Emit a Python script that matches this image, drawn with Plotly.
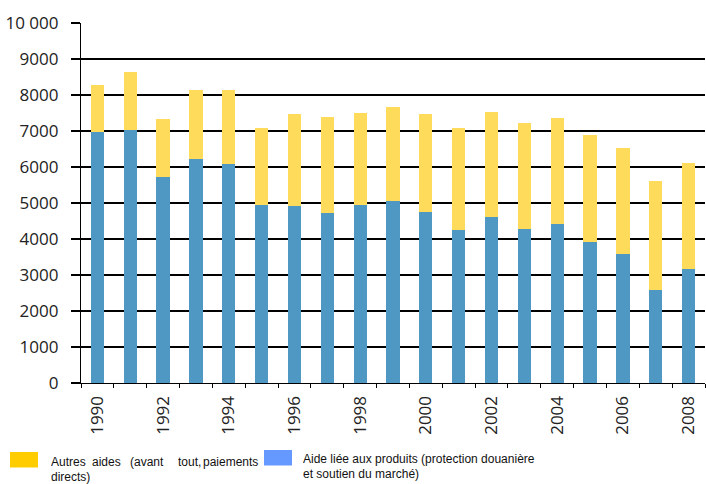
import plotly.graph_objects as go

# Farm support, 1990-2008 (millions)
years = [str(y) for y in range(1990, 2009)]
totals = [8270, 8630, 7320, 8150, 8140, 7090, 7460, 7400, 7510, 7670,
          7460, 7070, 7530, 7210, 7370, 6890, 6540, 5620, 6120]
product_aid = [6960, 7020, 5720, 6230, 6070, 4940, 4910, 4730, 4940, 5050,
               4760, 4240, 4600, 4280, 4430, 3930, 3580, 2580, 3160]
other_aid = [t - p for t, p in zip(totals, product_aid)]

y_ticks = list(range(0, 10001, 1000))
y_tick_text = ["10 000" if v == 10000 else str(v) for v in y_ticks]
x_tick_text = [y if int(y) % 2 == 0 else "" for y in years]

W, H = 706, 484
ML, MR, MT, MB = 81, 1, 23, 101


def px_x(x):
    return (x - ML) / (W - ML - MR)


def px_y(y):
    return 1 - (y - MT) / (H - MT - MB)


BLUE = "#5098C4"
YELLOW = "#FEDB5B"

fig = go.Figure()
fig.add_trace(go.Bar(x=years, y=product_aid, marker=dict(color=BLUE, line=dict(width=0)),
                     name="Aide liée aux produits"))
fig.add_trace(go.Bar(x=years, y=other_aid, marker=dict(color=YELLOW, line=dict(width=0)),
                     name="Autres aides"))

tick_font = dict(family="Open Sans, DejaVu Sans, sans-serif", size=17, color="#222")

fig.update_layout(
    width=W, height=H,
    margin=dict(l=ML, r=MR, t=MT, b=MB),
    paper_bgcolor="white", plot_bgcolor="white",
    barmode="stack", bargap=0.595,
    showlegend=False,
    xaxis=dict(
        type="category", tickson="boundaries",
        tickvals=years, ticktext=x_tick_text, tickangle=-90,
        ticks="outside", ticklen=4, tickcolor="black", tickwidth=1.2,
        showline=True, linecolor="black", linewidth=1.3,
        showgrid=False, tickfont=tick_font, ticklabelstandoff=5,
    ),
    yaxis=dict(
        range=[0, 10000], tickvals=y_ticks, ticktext=y_tick_text,
        ticks="outside", ticklen=9, tickcolor="black", tickwidth=1.5,
        showgrid=True, gridcolor="black", gridwidth=1.5,
        showline=True, linecolor="black", linewidth=1.3,
        zeroline=False, tickfont=tick_font, ticklabelstandoff=9,
    ),
)

legend_font = dict(family="Liberation Sans, Arial, sans-serif", size=12, color="#111")

# Legend swatches
fig.add_shape(type="rect", xref="paper", yref="paper",
              x0=px_x(10), x1=px_x(38), y0=px_y(467.5), y1=px_y(452),
              fillcolor="#FFCC00", line=dict(width=0))
fig.add_shape(type="rect", xref="paper", yref="paper",
              x0=px_x(264), x1=px_x(292), y0=px_y(465.5), y1=px_y(450),
              fillcolor="#6699FF", line=dict(width=0))

# Legend text: (text, left edge px, centre px, box width px); the first entry is justified word by word
legend_lines = [
    ("Autres", 50, 462, 40), ("aides", 90.7, 462, 38), ("(avant", 129.3, 462, 46),
    ("tout,", 176.7, 462, 30), ("paiements", 201.7, 462, 60), ("directs)", 50, 476.5, 60),
    ("Aide liée aux produits (protection douanière", 302, 459, 290),
    ("et soutien du marché)", 302, 474, 200),
]
for text, x, y, w in legend_lines:
    fig.add_annotation(text=text, x=px_x(x), y=px_y(y), xref="paper", yref="paper",
                       xanchor="left", yanchor="middle", align="left", width=w,
                       borderpad=0, showarrow=False, font=legend_font)

fig.write_html("out.html")
